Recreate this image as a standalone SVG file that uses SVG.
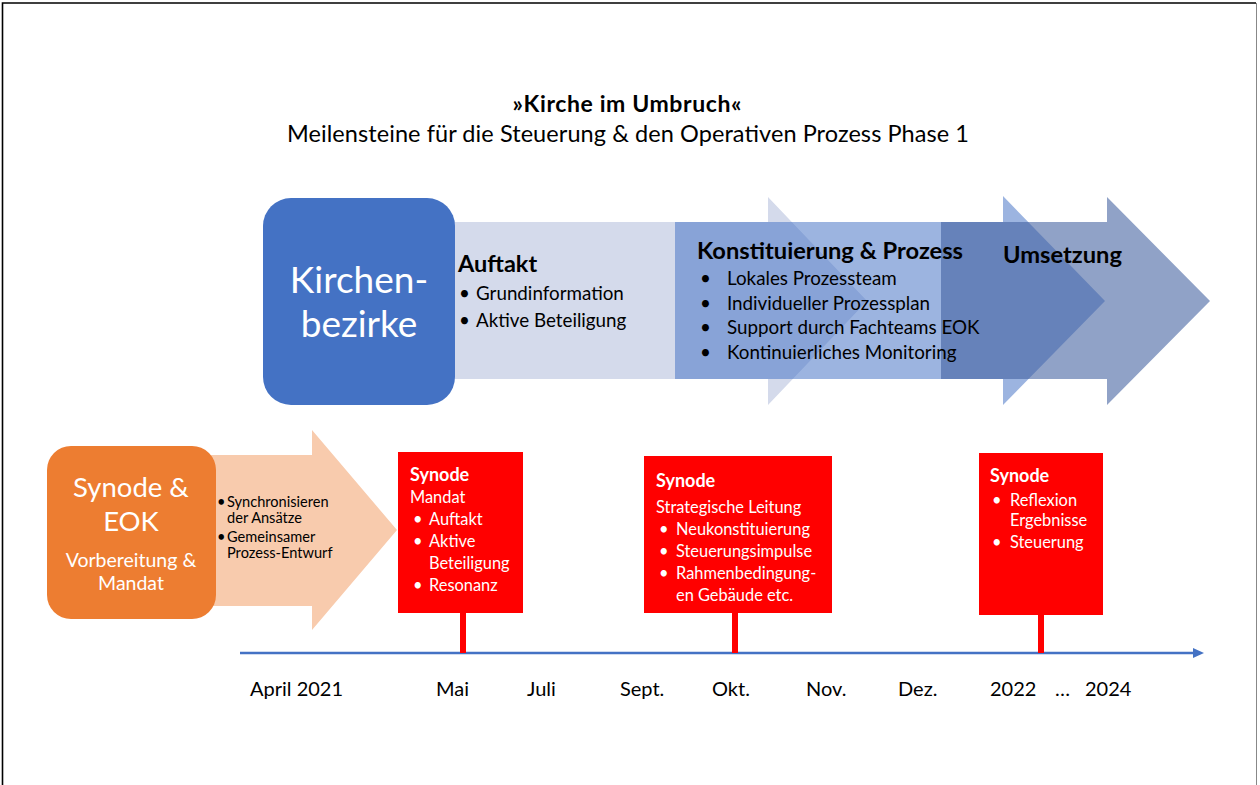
<svg xmlns="http://www.w3.org/2000/svg" width="1260" height="785" viewBox="0 0 1260 785">
<style>
text{font-family:Lato,"Liberation Sans",sans-serif}
.w{fill:#fff}
.k{fill:#000}
.b{font-weight:bold}
.rb{fill:#ff0000}
.ax{font-size:20px;fill:#000}
.it{font-size:18.8px;fill:#000}
.rt{font-size:16.4px;fill:#fff}
.pt{font-size:14.6px;fill:#000}
</style>
<rect width="1260" height="785" fill="#fff"/>
<path d="M2.5,785 V3 H1256" fill="none" stroke="#000" stroke-width="1.6"/>
<line x1="1256.5" y1="3" x2="1256.5" y2="785" stroke="#888" stroke-width="1"/>

<g id="title">
<text x="627" y="112" text-anchor="middle" class="k b" font-size="23" textLength="229">»Kirche im Umbruch«</text>
<text x="628" y="142" text-anchor="middle" class="k" font-size="23.5" textLength="682">Meilensteine für die Steuerung &amp; den Operativen Prozess Phase 1</text>
</g>

<g id="arrow-auftakt">
<polygon points="440,222 768,222 768,197 867,301 768,405 768,379 440,379" fill="#d4daeb"/>
</g>
<g id="arrow-konstituierung">
<polygon points="675,222 1003,222 1003,196 1105,301 1003,405 1003,379 675,379" fill="#4472c4" fill-opacity="0.53"/>
</g>
<g id="arrow-umsetzung">
<polygon points="941,222 1107,222 1107,197 1210,301 1107,405 1107,379 941,379" fill="#3f5e9e" fill-opacity="0.58"/>
</g>

<g id="kirchenbezirke">
<rect x="263" y="198" width="192" height="207" rx="28" fill="#4472c4"/>
<text x="359" y="293" text-anchor="middle" class="w" font-size="37">Kirchen-</text>
<text x="359" y="337" text-anchor="middle" class="w" font-size="37">bezirke</text>
</g>

<g id="auftakt-text">
<text x="458" y="272" class="k b" font-size="23.5">Auftakt</text>
<text x="459" y="300" class="it">•</text><text x="476" y="300" class="it">Grundinformation</text>
<text x="459" y="327" class="it">•</text><text x="476" y="327" class="it">Aktive Beteiligung</text>
</g>

<g id="konstituierung-text">
<text x="697" y="259" class="k b" font-size="23.7">Konstituierung &amp; Prozess</text>
<text x="700" y="285" class="it">•</text><text x="727" y="285" class="it">Lokales Prozessteam</text>
<text x="700" y="310" class="it">•</text><text x="727" y="310" class="it">Individueller Prozessplan</text>
<text x="700" y="334" class="it">•</text><text x="727" y="334" class="it">Support durch Fachteams EOK</text>
<text x="700" y="359" class="it">•</text><text x="727" y="359" class="it">Kontinuierliches Monitoring</text>
</g>

<g id="umsetzung-text">
<text x="1003" y="263" class="k b" font-size="23.7">Umsetzung</text>
</g>

<g id="prozess-entwurf">
<polygon points="205,455 312,455 312,430 397,530 312,630 312,606 205,606" fill="#f8cbad"/>
<text x="217" y="507" class="pt">•</text><text x="227" y="507" class="pt">Synchronisieren</text>
<text x="227" y="523" class="pt">der Ansätze</text>
<text x="217" y="542" class="pt">•</text><text x="227" y="542" class="pt">Gemeinsamer</text>
<text x="227" y="558" class="pt">Prozess-Entwurf</text>
</g>

<g id="synode-eok">
<rect x="47" y="446" width="169" height="173" rx="24" fill="#ed7d31"/>
<text x="131" y="497" text-anchor="middle" class="w" font-size="27.5">Synode &amp;</text>
<text x="131" y="531" text-anchor="middle" class="w" font-size="27.5">EOK</text>
<text x="131" y="567" text-anchor="middle" class="w" font-size="19.5">Vorbereitung &amp;</text>
<text x="131" y="590" text-anchor="middle" class="w" font-size="19.5">Mandat</text>
</g>

<g id="connectors">
<line x1="240" y1="653" x2="1195" y2="653" stroke="#4472c4" stroke-width="2.5"/>
<polygon points="1204,653 1193,648 1193,658" fill="#4472c4"/>
<rect x="460" y="610" width="6" height="43" class="rb"/>
<rect x="732" y="610" width="6" height="43" class="rb"/>
<rect x="1038" y="612" width="6" height="41" class="rb"/>
</g>

<g id="synode-mai">
<rect x="398" y="452" width="125" height="161" class="rb"/>
<text x="410" y="481" class="w b" font-size="18">Synode</text>
<text x="410" y="503" class="rt">Mandat</text>
<text x="413" y="525" class="rt">•</text><text x="429" y="525" class="rt">Auftakt</text>
<text x="413" y="547" class="rt">•</text><text x="429" y="547" class="rt">Aktive</text>
<text x="429" y="569" class="rt">Beteiligung</text>
<text x="413" y="591" class="rt">•</text><text x="429" y="591" class="rt">Resonanz</text>
</g>

<g id="synode-okt">
<rect x="644" y="456" width="188" height="157" class="rb"/>
<text x="656" y="487" class="w b" font-size="18">Synode</text>
<text x="656" y="513" class="rt">Strategische Leitung</text>
<text x="659" y="535" class="rt">•</text><text x="676" y="535" class="rt">Neukonstituierung</text>
<text x="659" y="557" class="rt">•</text><text x="676" y="557" class="rt">Steuerungsimpulse</text>
<text x="659" y="579" class="rt">•</text><text x="676" y="579" class="rt">Rahmenbedingung-</text>
<text x="676" y="601" class="rt">en Gebäude etc.</text>
</g>

<g id="synode-2022">
<rect x="979" y="453" width="124" height="162" class="rb"/>
<text x="990" y="482" class="w b" font-size="18">Synode</text>
<text x="992" y="506" class="rt">•</text><text x="1010" y="506" class="rt">Reflexion</text>
<text x="1010" y="526" class="rt">Ergebnisse</text>
<text x="992" y="548" class="rt">•</text><text x="1010" y="548" class="rt">Steuerung</text>
</g>

<g id="axis-labels">
<text x="250" y="696" class="ax">April 2021</text>
<text x="436" y="696" class="ax">Mai</text>
<text x="527" y="696" class="ax">Juli</text>
<text x="620" y="696" class="ax">Sept.</text>
<text x="712" y="696" class="ax">Okt.</text>
<text x="806" y="696" class="ax">Nov.</text>
<text x="898" y="696" class="ax">Dez.</text>
<text x="990" y="696" class="ax">2022</text>
<text x="1055" y="696" class="ax">…</text>
<text x="1085" y="696" class="ax">2024</text>
</g>
</svg>
